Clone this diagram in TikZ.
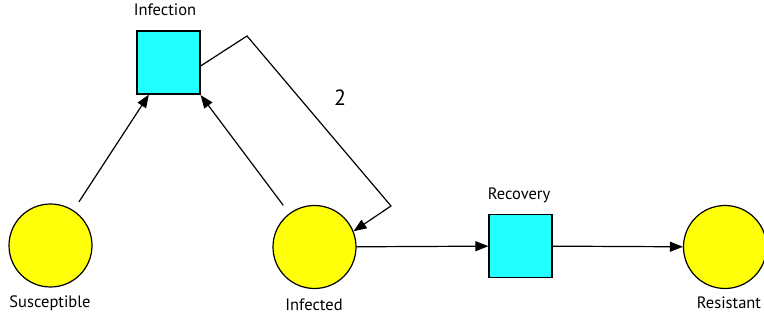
\documentclass[tikz,border=0pt]{standalone}
\usepackage{fontspec}
\setmainfont{PT Sans}
\usetikzlibrary{arrows.meta,calc}
\definecolor{placeY}{HTML}{FFFF0A}
\definecolor{transC}{HTML}{22FFFF}
\begin{document}
\begin{tikzpicture}[x=1pt,y=-1pt,
  place/.style={circle,draw=black,line width=1.2pt,fill=placeY,minimum size=83pt,inner sep=0pt},
  trans/.style={rectangle,draw=black,line width=1.2pt,fill=transC,minimum size=63pt,inner sep=0pt},
  lbl/.style={anchor=base,inner sep=0pt,font=\fontsize{16.5}{18}\selectfont},
  arc/.style={line width=1.2pt,-{Triangle[length=13pt,width=10pt]}}]
\useasboundingbox (0,0) rectangle (764,320);
\node[trans] (inf) at (168.5,62.5) {};
\node[trans] (rec) at (520.5,246) {};
\node[place] (sus) at (50.5,245.5) {};
\node[place] (ifd) at (314.5,247) {};
\node[place] (res) at (725,247) {};
\node[lbl] (linf) at (165,16) {Infection};
\node[lbl] (lrec) at (519,200) {Recovery};
\node[lbl] (lsus) at (50,308) {Susceptible};
\node[lbl] (lifd) at (314,311) {Infected};
\node[lbl] (lres) at (729,309) {Resistant};
\coordinate (b1) at (247,36);
\coordinate (b2) at (391,206);
\draw[arc,shorten <=10pt] (sus) -- ($(inf.south west)+(12.5,0)$);
\draw[arc,shorten <=10pt] (ifd) -- ($(inf.south east)+(0,0.5)$);
\draw[arc] ($(inf.east)+(0,3.5)$) -- (b1) -- (b2) -- (ifd.22);
\node[font=\fontsize{22}{24}\selectfont,inner sep=0pt] (w) at (340,98) {2};
\draw[arc] (ifd) -- (rec);
\draw[arc] (rec) -- (res);
\end{tikzpicture}
\end{document}
